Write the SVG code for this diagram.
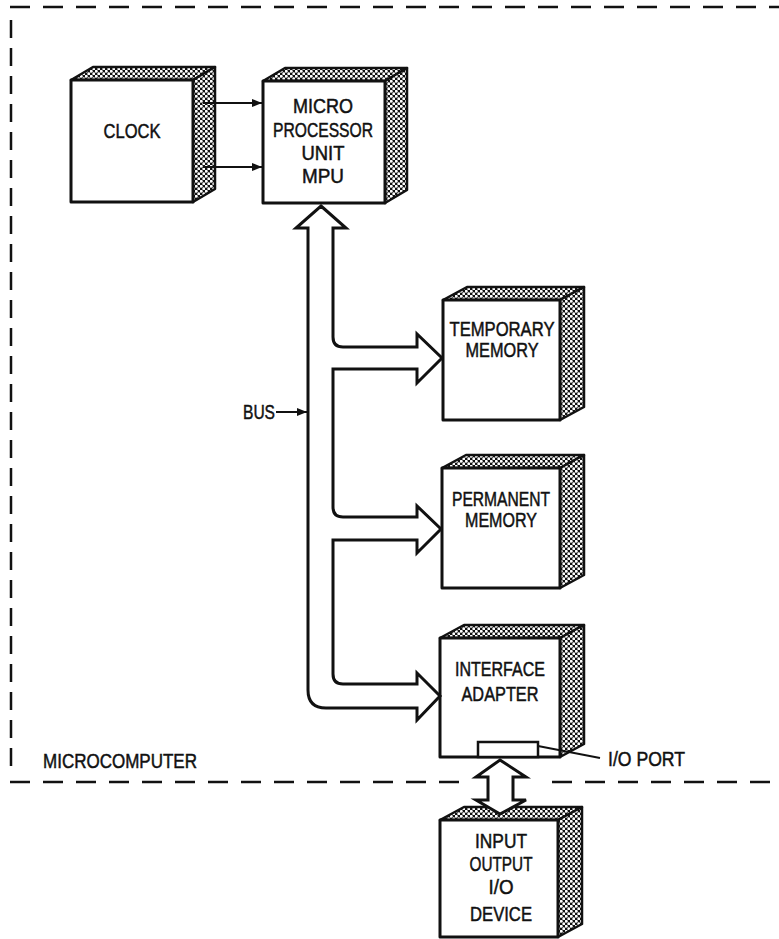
<svg xmlns="http://www.w3.org/2000/svg" width="779" height="939" viewBox="0 0 779 939">
<defs>
<pattern id="dots" patternUnits="userSpaceOnUse" width="5" height="5">
<rect width="5" height="5" fill="#111"/>
<circle cx="1.25" cy="1.25" r="1.45" fill="#fff"/>
<circle cx="3.75" cy="3.75" r="1.45" fill="#fff"/>
</pattern>
<marker id="ah" viewBox="0 0 10 10" refX="10" refY="5" markerWidth="10" markerHeight="10" markerUnits="userSpaceOnUse" orient="auto">
<path d="M0,1 L10,5 L0,9 Z" fill="#111"/>
</marker>
<style>
.front{fill:#fff;stroke:#111;stroke-width:3;stroke-linejoin:round}
.side{fill:url(#dots);stroke:#111;stroke-width:2.5;stroke-linejoin:round}
.t{font-family:"Liberation Sans",Arial,sans-serif;font-size:21px;fill:#111;stroke:#111;stroke-width:0.5;text-anchor:middle}
.tl{font-family:"Liberation Sans",Arial,sans-serif;font-size:21px;fill:#111;stroke:#111;stroke-width:0.5}
.dash{fill:none;stroke:#111;stroke-width:2.5}
.wide{fill:#fff;stroke:#111;stroke-width:3;stroke-linejoin:miter}
.thin{fill:none;stroke:#111;stroke-width:2}
</style>
</defs>
<rect width="779" height="939" fill="#fff"/>

<g id="border">
<line class="dash" x1="10" y1="7" x2="779" y2="7" stroke-dasharray="20 13"/>
<line class="dash" x1="11" y1="20" x2="11" y2="775" stroke-dasharray="18 10"/>
<line class="dash" x1="10" y1="782" x2="467" y2="782" stroke-dasharray="20 13"/>
<line class="dash" x1="552" y1="782" x2="779" y2="782" stroke-dasharray="20 13"/>
<text class="tl" x="43" y="768" textLength="154" lengthAdjust="spacingAndGlyphs">MICROCOMPUTER</text>
</g>

<g id="clock">
<polygon class="side" points="71,80 93,67 215,67 193,80"/>
<polygon class="side" points="193,80 215,67 215,189 193,202"/>
<rect class="front" x="71" y="80" width="122" height="122"/>
<text class="t" x="132" y="138" font-size="21" textLength="57" lengthAdjust="spacingAndGlyphs">CLOCK</text>
</g>

<g id="mpu">
<polygon class="side" points="263,81 285,68 407,68 385,81"/>
<polygon class="side" points="385,81 407,68 407,190 385,203"/>
<rect class="front" x="263" y="81" width="122" height="122"/>
<text class="t" x="323" y="113" font-size="19" textLength="60" lengthAdjust="spacingAndGlyphs">MICRO</text>
<text class="t" x="323" y="137" font-size="19" textLength="100" lengthAdjust="spacingAndGlyphs">PROCESSOR</text>
<text class="t" x="323" y="160" font-size="19" textLength="43" lengthAdjust="spacingAndGlyphs">UNIT</text>
<text class="t" x="323" y="183" font-size="19" textLength="42" lengthAdjust="spacingAndGlyphs">MPU</text>
</g>

<g id="temporary-memory">
<polygon class="side" points="443,300 467,287 584,287 560,300"/>
<polygon class="side" points="560,300 584,287 584,407 560,420"/>
<rect class="front" x="443" y="300" width="117" height="120"/>
<text class="t" x="502" y="336" textLength="105" lengthAdjust="spacingAndGlyphs">TEMPORARY</text>
<text class="t" x="502" y="357" textLength="73" lengthAdjust="spacingAndGlyphs">MEMORY</text>
</g>

<g id="permanent-memory">
<polygon class="side" points="442,468 466,455 584,455 560,468"/>
<polygon class="side" points="560,468 584,455 584,575 560,588"/>
<rect class="front" x="442" y="468" width="118" height="120"/>
<text class="t" x="501" y="506" textLength="98" lengthAdjust="spacingAndGlyphs">PERMANENT</text>
<text class="t" x="501" y="527" textLength="72" lengthAdjust="spacingAndGlyphs">MEMORY</text>
</g>

<g id="interface-adapter">
<polygon class="side" points="440,638 464,625 584,625 560,638"/>
<polygon class="side" points="560,638 584,625 584,744 560,757"/>
<rect class="front" x="440" y="638" width="120" height="119"/>
<text class="t" x="500" y="676" textLength="90" lengthAdjust="spacingAndGlyphs">INTERFACE</text>
<text class="t" x="500" y="701" textLength="77" lengthAdjust="spacingAndGlyphs">ADAPTER</text>
<rect x="478" y="742" width="60" height="15" fill="#fff" stroke="#111" stroke-width="2.5"/>
</g>

<g id="io-device">
<polygon class="side" points="440,820 464,807 582,807 558,820"/>
<polygon class="side" points="558,820 582,807 582,924 558,937"/>
<rect class="front" x="440" y="820" width="118" height="117"/>
<text class="t" x="501" y="848" textLength="52" lengthAdjust="spacingAndGlyphs">INPUT</text>
<text class="t" x="501" y="871" textLength="63" lengthAdjust="spacingAndGlyphs">OUTPUT</text>
<text class="t" x="501" y="894" textLength="25" lengthAdjust="spacingAndGlyphs">I/O</text>
<text class="t" x="501" y="921" textLength="62" lengthAdjust="spacingAndGlyphs">DEVICE</text>
</g>

<g id="connectors">
<line class="thin" x1="203" y1="103" x2="262" y2="103" marker-end="url(#ah)"/>
<line class="thin" x1="203" y1="167" x2="262" y2="167" marker-end="url(#ah)"/>
<path class="wide" d="M321,206 L346,228 L333,228 L333,337 Q333,347 343,347 L417,347 L417,334 L442,358 L417,383 L417,369 L333,369 L333,507 Q333,517 343,517 L417,517 L417,506 L441,529 L417,553 L417,540 L333,540 L333,674 Q333,684 343,684 L417,684 L417,673 L440,696 L417,720 L417,708 L326,708 Q308,708 308,690 L308,228 L296,228 Z"/>
<text class="tl" x="243" y="419" font-size="19" textLength="32" lengthAdjust="spacingAndGlyphs">BUS</text>
<line class="thin" x1="276" y1="412" x2="307" y2="412" marker-end="url(#ah)"/>
<path class="wide" d="M500,760 L526,777 L513,777 L513,800 L526,800 L500,814 L476,800 L488,800 L488,777 L476,777 Z"/>
<line x1="538" y1="746" x2="600" y2="758" stroke="#111" stroke-width="1.8"/>
<text class="tl" x="608" y="766" textLength="77" lengthAdjust="spacingAndGlyphs">I/O PORT</text>
</g>
</svg>
